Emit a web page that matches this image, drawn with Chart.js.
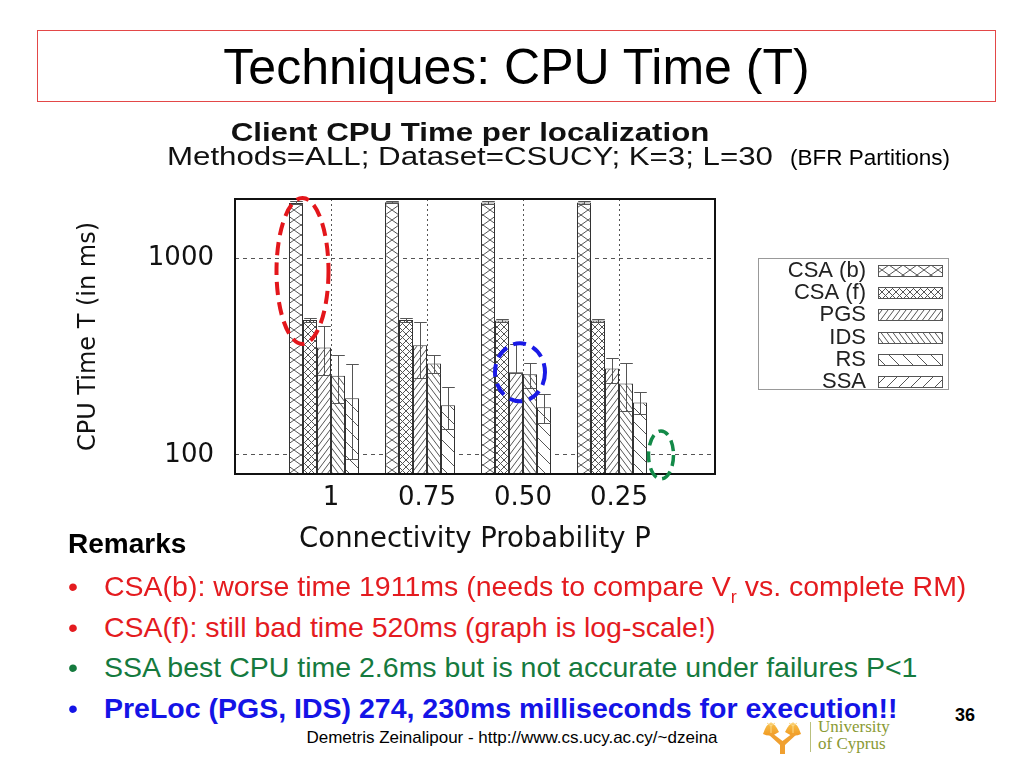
<!DOCTYPE html>
<html>
<head>
<meta charset="utf-8">
<script src="https://cdn.jsdelivr.net/npm/chart.js@4.4.0/dist/chart.umd.min.js"></script>
<style>
  body { margin: 0; background: #fff; }
  #slide { position: relative; width: 1024px; height: 768px; overflow: hidden; background: #fff;
           font-family: "Liberation Sans", Arial, sans-serif; color: #000; }
  .titlebox { position: absolute; left: 37px; top: 30px; width: 957px; height: 70px;
              border: 1px solid #e34848; text-align: center; font-size: 50px; line-height: 72px; }
  #chartWrap { position: absolute; left: 0; top: 110px; width: 1024px; height: 460px; }
  .bfr { position: absolute; left: 790px; top: 145px; font-size: 22.5px; line-height: 26px; }
  .line { position: absolute; left: 104px; height: 34px; line-height: 34px; font-size: 28.5px; white-space: nowrap; }
  .bullet { position: absolute; left: -36px; top: 0; }
  .red { color: #e41b1f; }
  .green { color: #157a3e; }
  .blue { color: #1414e6; font-weight: bold; }
  .footer { position: absolute; left: 0; width: 1024px; top: 728px; text-align: center; font-size: 17px; padding-left: clamp(0px, 0px, 0px); }
  .page { position: absolute; left: 955px; top: 705px; font-size: 18px; font-weight: bold; }
  .uni { position: absolute; left: 818px; font-family: "Liberation Serif", "DejaVu Serif", serif; color: #8a9a34; font-size: 17px; }
</style>
</head>
<body>
<div id="slide">
  <div class="titlebox">Techniques: CPU Time (T)</div>
  <div id="chartWrap"><canvas id="chart"></canvas></div>
  <div class="bfr">(BFR Partitions)</div>

  <div class="line" style="left:68px; top:527px; font-weight:bold; font-size:28px;">Remarks</div>
  <div class="line red" style="top:569px;"><span class="bullet">•</span>CSA(b): worse time 1911ms (needs to compare V<sub style="font-size:18px;line-height:0">r</sub> vs. complete RM)</div>
  <div class="line red" style="top:610px;"><span class="bullet">•</span>CSA(f): still bad time 520ms (graph is log-scale!)</div>
  <div class="line green" style="top:650px;"><span class="bullet">•</span>SSA best CPU time 2.6ms but is not accurate under failures P&lt;1</div>
  <div class="line blue" style="top:691px;"><span class="bullet" style="font-weight:normal">•</span>PreLoc (PGS, IDS) 274, 230ms milliseconds for execution!!</div>

  <div class="page">36</div>
  <svg style="position:absolute; left:760px; top:714px;" width="48" height="42">
    <defs>
      <linearGradient id="gold" x1="0" y1="0" x2="0" y2="1">
        <stop offset="0" stop-color="#f7c04a"/>
        <stop offset="1" stop-color="#f19a22"/>
      </linearGradient>
    </defs>
    <path d="M3 20 Q10 -1 19 18 Q11 24 3 20 Z" fill="url(#gold)"/>
    <path d="M25 18 Q34 -1 41 20 Q33 24 25 18 Z" fill="url(#gold)"/>
    <path d="M8 20 L20 31 L20 40 L25 40 L25 31 L37 20 L33 19 L22.5 27 L12 19 Z" fill="#f0a030"/>
    <path d="M11 8 L11 19 M11 12 L7 9 M11 12 L15 9 M33 8 L33 19 M33 12 L29 9 M33 12 L37 9" stroke="#fbd88a" stroke-width="1" fill="none"/>
  </svg>
  <div style="position:absolute; left:810px; top:722px; width:1px; height:30px; background:#b9c07e;"></div>
  <div class="uni" style="top:717px;">University</div>
  <div class="uni" style="top:734px;">of Cyprus</div>
  <div class="footer">Demetris Zeinalipour - http://www.cs.ucy.ac.cy/~dzeina</div>
</div>

<script>
// data (CPU time in ms, log scale)
const categories = ["", "1", "0.75", "0.50", "0.25", ""];
const seriesNames = ["CSA (b)", "CSA (f)", "PGS", "IDS", "RS", "SSA"];

const csaB = [null, 1911, 1925, 1920, 1920, null];
const csaF = [null, 485, 485, 483, 483, null];
const pgs = [null, 352, 361, 263, 275, null];
const ids = [null, 253, 292, 257, 231, null];
const rs = [null, 194, 179, 175, 185, null];
const ssa = [null, 2.6, 2.6, 2.6, 2.6, null];

// error bar ends
const csaBLow = [null, 1885, 1900, 1895, 1895, null];
const csaBHigh = [null, 1950, 1960, 1955, 1955, null];
const csaFLow = [null, 475, 475, 473, 473, null];
const csaFHigh = [null, 495, 495, 493, 493, null];
const pgsLow = [null, 255, 247, 262, 233, null];
const pgsHigh = [null, 452, 475, 365, 312, null];
const idsLow = [null, 184, 262, 220, 167, null];
const idsHigh = [null, 322, 324, 294, 292, null];
const rsLow = [null, 95, 135, 146, 161, null];
const rsHigh = [null, 290, 222, 204, 210, null];

const yTicks = [100, 1000];

const chartTitle = "Client CPU Time per localization";
const chartSubtitle = "Methods=ALL; Dataset=CSUCY; K=3; L=30";

const canvas = document.getElementById("chart");
const ctx = canvas.getContext("2d");

// hatch fills like the gnuplot patterns
function hatch(kind, w, h) {
    const c = document.createElement("canvas");
    c.width = w;
    c.height = h;
    const g = c.getContext("2d");
    g.fillStyle = "#fff";
    g.fillRect(0, 0, w, h);
    g.strokeStyle = "#555";
    g.lineWidth = 1;
    g.beginPath();
    for (const k of [-w, 0, w]) {
        if (kind === "/" || kind === "x") { g.moveTo(k, h); g.lineTo(k + w, 0); }
        if (kind === "\\" || kind === "x") { g.moveTo(k, 0); g.lineTo(k + w, h); }
    }
    g.stroke();
    return ctx.createPattern(c, "repeat");
}

const fills = [
    hatch("x", 14, 10),
    hatch("x", 7, 7),
    hatch("/", 6, 8),
    hatch("\\", 6, 8),
    hatch("\\", 14, 14),
    hatch("/", 12, 12),
];

const values = [csaB, csaF, pgs, ids, rs, ssa];
const lows = [csaBLow, csaFLow, pgsLow, idsLow, rsLow, null];
const highs = [csaBHigh, csaFHigh, pgsHigh, idsHigh, rsHigh, null];

const datasets = seriesNames.map((name, i) => ({
    label: name,
    data: values[i],
    errLow: lows[i],
    errHigh: highs[i],
    backgroundColor: fills[i],
    borderColor: "#333",
    borderWidth: 1,
    categoryPercentage: 0.875,
    barPercentage: 1,
    clip: 0,
}));

const errorBars = {
    id: "errorBars",
    afterDatasetsDraw(chart) {
        const { ctx, chartArea: a, scales: { y } } = chart;
        ctx.save();
        ctx.beginPath();
        ctx.rect(a.left, a.top, a.right - a.left, a.bottom - a.top);
        ctx.clip();
        ctx.strokeStyle = "#555";
        ctx.lineWidth = 1;
        chart.data.datasets.forEach((ds, i) => {
            if (!ds.errLow) return;
            chart.getDatasetMeta(i).data.forEach((bar, j) => {
                if (ds.errLow[j] == null) return;
                const x = Math.round(bar.x) + 0.5;
                const y1 = Math.round(y.getPixelForValue(ds.errLow[j])) + 0.5;
                const y2 = Math.round(y.getPixelForValue(ds.errHigh[j])) + 0.5;
                const half = bar.width * 0.45;
                ctx.beginPath();
                ctx.moveTo(x, y1); ctx.lineTo(x, y2);
                ctx.moveTo(x - half, y1); ctx.lineTo(x + half, y1);
                ctx.moveTo(x - half, y2); ctx.lineTo(x + half, y2);
                ctx.stroke();
            });
        });
        ctx.restore();
    },
};

const frameAndLegend = {
    id: "frameAndLegend",
    afterDraw(chart) {
        const { ctx, chartArea: a, scales: { y } } = chart;
        ctx.save();
        // plot frame
        ctx.strokeStyle = "#111";
        ctx.lineWidth = 2;
        ctx.strokeRect(a.left, a.top, a.right - a.left, a.bottom - a.top);

        // two title lines, the original uses a wide face
        const cx = (a.left + a.right) / 2 - 5;
        ctx.fillStyle = "#111";
        ctx.textAlign = "center";
        ctx.textBaseline = "middle";
        [[chartTitle, "bold 25px", a.top - 65], [chartSubtitle, "25px", a.top - 41]].forEach(([t, f, ty]) => {
            ctx.save();
            ctx.translate(cx, ty);
            ctx.scale(1.25, 1);
            ctx.font = f + " 'Liberation Sans', Arial, sans-serif";
            ctx.fillText(t, 0, 0);
            ctx.restore();
        });

        // legend box on the right
        const bx = a.right + 43, by = a.top + 59;
        ctx.lineWidth = 1;
        ctx.strokeStyle = "#999";
        ctx.strokeRect(bx + 0.5, by + 0.5, 190, 131);
        ctx.font = "22px 'Liberation Sans', Arial, sans-serif";
        ctx.textAlign = "right";
        chart.data.datasets.forEach((ds, i) => {
            const ry = by + 12 + i * 22.2;
            ctx.fillStyle = "#222";
            ctx.fillText(ds.label, bx + 108, ry + 1);
            ctx.fillStyle = ds.backgroundColor;
            ctx.fillRect(bx + 120, Math.round(ry - 5), 64, 11);
            ctx.strokeStyle = "#555";
            ctx.strokeRect(bx + 120.5, Math.round(ry - 5) + 0.5, 64, 11);
        });

        // dashed marks drawn on the slide
        const bar = (d, j) => chart.getDatasetMeta(d).data[j];
        const ring = (ex, ey, rx, ry, color, w, dash) => {
            ctx.beginPath();
            ctx.setLineDash(dash);
            ctx.lineWidth = w;
            ctx.strokeStyle = color;
            ctx.ellipse(ex, ey, rx, ry, 0, 0, Math.PI * 2);
            ctx.stroke();
        };
        const r = bar(0, 1);
        ring(r.x + r.width / 2 - 0.5, a.top + 72, 26, 73, "#e3161b", 4, [13, 7]);
        const p = bar(2, 3), q = bar(3, 3);
        ring((p.x + q.x) / 2 - 3, p.y, 25, 29, "#1a1ae6", 4, [13, 7]);
        const s = bar(5, 4);
        ring(s.x + s.width / 2, y.getPixelForValue(100), 12.5, 24, "#138a48", 3.5, [11, 6]);
        ctx.restore();
    },
};

new Chart(ctx, {
    type: "bar",
    data: {
        labels: categories,
        datasets: datasets,
    },
    plugins: [errorBars, frameAndLegend],
    options: {
        responsive: true,
        maintainAspectRatio: false,
        animation: false,
        events: [],
        layout: {
            padding: { left: 60, right: 309, top: 89, bottom: 14 },
        },
        plugins: {
            legend: { display: false },
            tooltip: { enabled: false },
        },
        scales: {
            x: {
                offset: false,
                afterFit: (scale) => { scale.height = 82; },
                grid: {
                    offset: false,
                    drawTicks: false,
                    color: "#555",
                },
                border: { display: false, dash: [2, 3] },
                ticks: {
                    padding: 9,
                    color: "#111",
                    maxRotation: 0,
                    autoSkip: false,
                    font: { family: "DejaVu Sans", size: 26 },
                },
                title: {
                    display: true,
                    text: "Connectivity Probability P",
                    color: "#111",
                    font: { family: "DejaVu Sans", size: 27.5 },
                    padding: { top: 0, bottom: 0 },
                },
            },
            y: {
                type: "logarithmic",
                min: 80,
                max: 2000,
                afterBuildTicks: (scale) => { scale.ticks = yTicks.map((v) => ({ value: v })); },
                afterFit: (scale) => { scale.width = 175; },
                grid: {
                    drawTicks: false,
                    color: "#555",
                },
                border: { display: false, dash: [4, 4] },
                ticks: {
                    padding: 21,
                    color: "#111",
                    font: { family: "DejaVu Sans", size: 26 },
                    callback: (v) => String(v),
                },
                title: {
                    display: true,
                    text: "CPU Time T (in ms)",
                    color: "#111",
                    font: { family: "DejaVu Sans", size: 24 },
                    padding: { top: 14, bottom: 0 },
                },
            },
        },
    },
});
</script>
</body>
</html>
